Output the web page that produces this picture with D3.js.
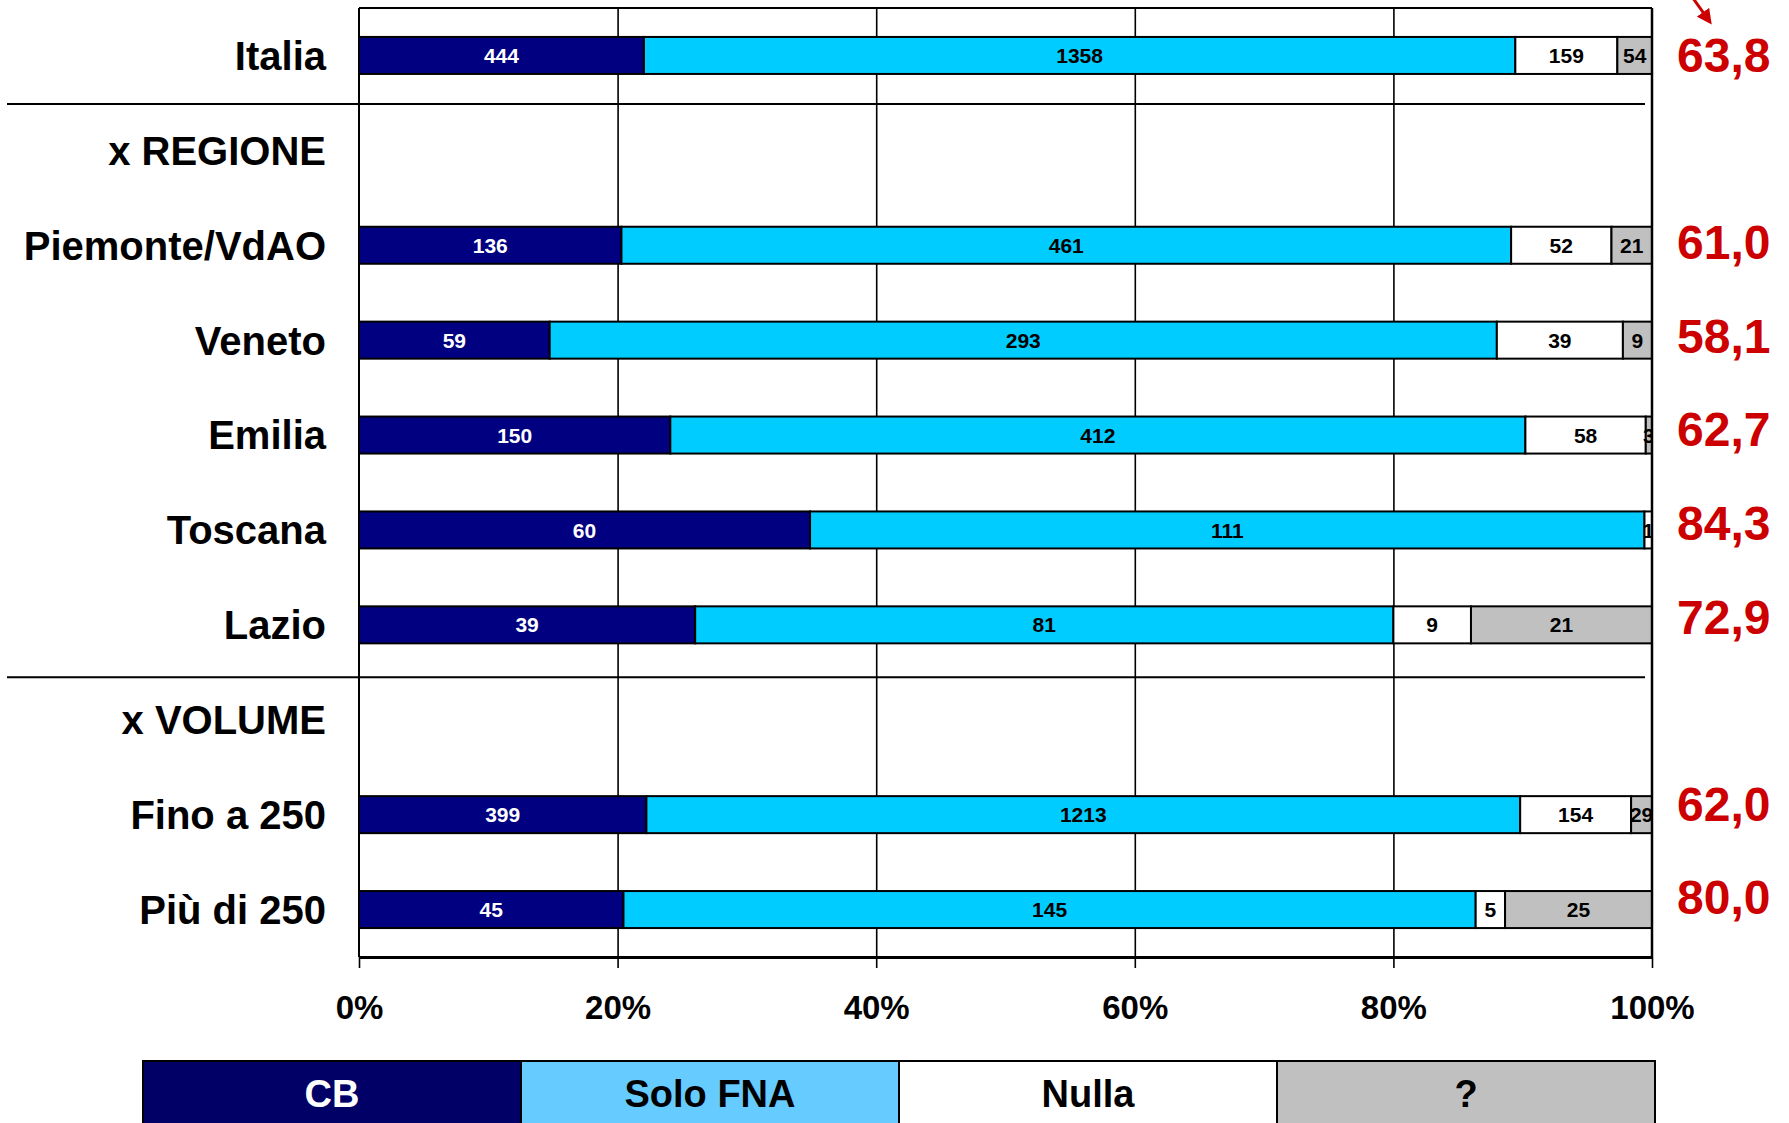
<!DOCTYPE html>
<html>
<head>
<meta charset="utf-8">
<script src="https://cdn.jsdelivr.net/npm/d3@7"></script>
<style>
  body { margin: 0; background: #fff; }
  svg { display: block; font-family: "Liberation Sans", Arial, sans-serif; font-weight: bold; }
</style>
</head>
<body>
<div class="bar-chart"></div>
<script>
// data
const categories = ["Italia", "x REGIONE", "Piemonte/VdAO", "Veneto", "Emilia", "Toscana", "Lazio", "x VOLUME", "Fino a 250", "Più di 250"];
const seriesNames = ["CB", "Solo FNA", "Nulla", "?"];
const cb      = [444, null, 136, 59, 150, 60, 39, null, 399, 45];
const soloFna = [1358, null, 461, 293, 412, 111, 81, null, 1213, 145];
const nulla   = [159, null, 52, 39, 58, 1, 9, null, 154, 5];
const unknown = [54, null, 21, 9, 3, 0, 21, null, 29, 25];
const redLabels = ["63,8", null, "61,0", "58,1", "62,7", "84,3", "72,9", null, "62,0", "80,0"];
const tickValues = [0, 0.2, 0.4, 0.6, 0.8, 1];

const barColors = ["#000080", "#00CCFF", "#FFFFFF", "#C0C0C0"];
const legendColors = ["#000066", "#66CCFF", "#FFFFFF", "#C0C0C0"];
const labelColors = ["#FFFFFF", "#000000", "#000000", "#000000"];

const width = 1789, height = 1123;
const margin = {top: 8, right: 137, bottom: 166, left: 359};
const plotW = width - margin.left - margin.right;
const plotH = height - margin.top - margin.bottom;

const svg = d3.select(".bar-chart")
    .append("svg")
    .attr("width", width)
    .attr("height", height);

// build table for the stack (header rows have no values)
const rows = categories.map((c, i) => ({
    cat: c,
    "CB": cb[i], "Solo FNA": soloFna[i], "Nulla": nulla[i], "?": unknown[i]
})).filter(d => d["CB"] != null);

const stacked = d3.stack()
    .keys(seriesNames)
    .offset(d3.stackOffsetExpand)(rows);

let xScale = d3.scaleLinear()
    .domain([0, 1])
    .range([margin.left, margin.left + plotW]);

let yScale = d3.scaleBand()
    .domain(categories)
    .range([margin.top, margin.top + plotH])
    .paddingInner(0.61)
    .paddingOuter(0.305);

// red labels sit on a slightly tighter grid than the bars
let yRed = d3.scaleBand()
    .domain(categories)
    .range([margin.top, margin.top + 936]);

// grid lines
svg.append("g")
    .attr("class", "grid")
    .attr("transform", "translate(0," + (margin.top + plotH) + ")")
    .call(d3.axisBottom(xScale).tickValues(tickValues.slice(1, -1)).tickSize(-plotH).tickFormat(""))
    .call(g => g.select(".domain").remove())
    .call(g => g.selectAll("line").attr("stroke", "#000").attr("stroke-width", 1.6));

// separator lines between groups
const gap = (yScale.step() - yScale.bandwidth()) / 2;
svg.append("g")
    .selectAll("line")
    .data(["x REGIONE", "x VOLUME"])
    .join("line")
    .attr("x1", 7)
    .attr("x2", 1645)
    .attr("y1", d => yScale(d) - gap + (d == "x VOLUME" ? 5 : 1))
    .attr("y2", d => yScale(d) - gap + (d == "x VOLUME" ? 5 : 1))
    .attr("stroke", "#000")
    .attr("stroke-width", 2);

// bars
const layer = svg.append("g")
    .selectAll("g")
    .data(stacked)
    .join("g")
    .attr("fill", (d, i) => barColors[i]);

layer.selectAll("rect")
    .data(d => d)
    .join("rect")
    .attr("x", d => xScale(d[0]))
    .attr("width", d => xScale(d[1]) - xScale(d[0]))
    .attr("y", d => yScale(d.data.cat))
    .attr("height", yScale.bandwidth())
    .attr("stroke", "#000")
    .attr("stroke-width", 2);

// value labels, clipped to plot area
svg.append("clipPath").attr("id", "plotclip")
    .append("rect")
    .attr("x", margin.left).attr("y", margin.top)
    .attr("width", plotW).attr("height", plotH);

const labels = svg.append("g").attr("clip-path", "url(#plotclip)");
stacked.forEach((s, si) => {
    labels.selectAll(null)
        .data(s.filter(d => d.data[s.key] > 0))
        .join("text")
        .attr("x", d => xScale((d[0] + d[1]) / 2))
        .attr("y", d => yScale(d.data.cat) + yScale.bandwidth() / 2)
        .attr("dy", "0.36em")
        .attr("text-anchor", "middle")
        .attr("font-size", 21)
        .attr("fill", labelColors[si])
        .text(d => d.data[s.key]);
});

// frame: top, left, right
svg.append("g")
    .attr("fill", "none")
    .attr("stroke", "#000")
    .attr("stroke-width", 2)
    .call(g => g.append("line").attr("x1", xScale(0)).attr("x2", xScale(1)).attr("y1", margin.top).attr("y2", margin.top))
    .call(g => g.append("line").attr("x1", xScale(0)).attr("x2", xScale(0)).attr("y1", margin.top).attr("y2", margin.top + plotH))
    .call(g => g.append("line").attr("x1", xScale(1)).attr("x2", xScale(1)).attr("y1", margin.top).attr("y2", margin.top + plotH).attr("stroke-width", 2.5));

// x axis
let xAxis = d3.axisBottom()
    .scale(xScale)
    .tickValues(tickValues)
    .tickFormat(d3.format(".0%"))
    .tickSize(11)
    .tickSizeOuter(0)
    .tickPadding(28);

svg.append("g")
    .attr("transform", "translate(0," + (margin.top + plotH) + ")")
    .call(xAxis)
    .call(g => g.select(".domain").attr("stroke-width", 3))
    .call(g => g.selectAll(".tick line").attr("stroke-width", 1.6))
    .call(g => g.selectAll("text")
        .attr("font-size", 33)
        .attr("font-family", "Liberation Sans, Arial, sans-serif")
        .attr("font-weight", "bold")
        .attr("fill", "#000"));

// category labels
svg.append("g")
    .selectAll("text")
    .data(categories)
    .join("text")
    .attr("x", 326)
    .attr("y", d => yScale(d) + yScale.bandwidth() / 2)
    .attr("dy", "0.36em")
    .attr("text-anchor", "end")
    .attr("font-size", 40)
    .attr("fill", "#000")
    .text(d => d);

// red values on the right
svg.append("g")
    .selectAll("text")
    .data(categories.map((c, i) => ({cat: c, v: redLabels[i]})).filter(d => d.v))
    .join("text")
    .attr("x", 1677)
    .attr("y", d => yRed(d.cat) + yRed.bandwidth() / 2)
    .attr("dy", "0.36em")
    .attr("font-size", 48)
    .attr("fill", "#CC0000")
    .text(d => d.v);

// red arrow at top right
svg.append("defs").append("marker")
    .attr("id", "arrowhead")
    .attr("viewBox", "0 0 10 10")
    .attr("refX", 8).attr("refY", 5)
    .attr("markerWidth", 5).attr("markerHeight", 5)
    .attr("orient", "auto")
    .append("path")
    .attr("d", "M0,0L10,5L0,10z")
    .attr("fill", "#CC0000");

svg.append("line")
    .attr("x1", 1690).attr("y1", -6)
    .attr("x2", 1710).attr("y2", 22)
    .attr("stroke", "#CC0000")
    .attr("stroke-width", 3)
    .attr("marker-end", "url(#arrowhead)");

// legend
let legendX = d3.scaleBand()
    .domain(seriesNames)
    .range([143, 1655]);

const legend = svg.append("g")
    .selectAll("g")
    .data(seriesNames)
    .join("g");

legend.append("rect")
    .attr("x", d => legendX(d))
    .attr("y", 1061)
    .attr("width", legendX.bandwidth())
    .attr("height", 80)
    .attr("fill", (d, i) => legendColors[i])
    .attr("stroke", "#000")
    .attr("stroke-width", 2);

legend.append("text")
    .attr("x", d => legendX(d) + legendX.bandwidth() / 2)
    .attr("y", 1093)
    .attr("dy", "0.36em")
    .attr("text-anchor", "middle")
    .attr("font-size", 38)
    .attr("fill", (d, i) => i == 0 ? "#fff" : "#000")
    .text(d => d);
</script>
</body>
</html>
